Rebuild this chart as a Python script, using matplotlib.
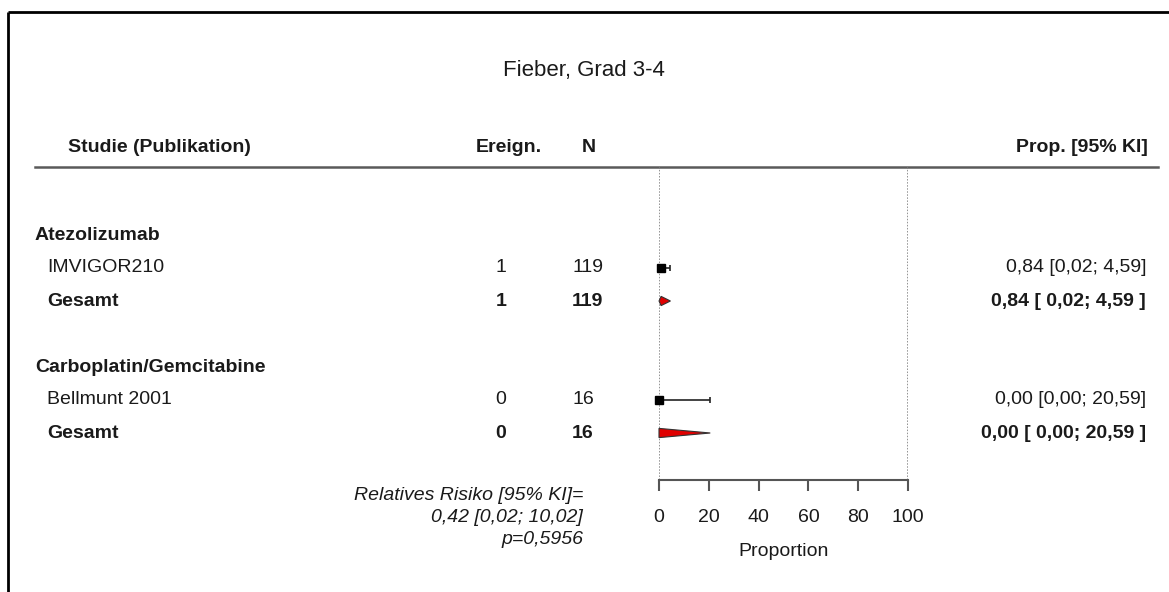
import matplotlib
matplotlib.use("Agg")
import matplotlib.pyplot as plt
from matplotlib.patches import Polygon

plt.rcParams['font.family'] = ['Liberation Sans', 'DejaVu Sans']

# ---- data ----
title = "Fieber, Grad 3-4"
groups = ["Atezolizumab", "Carboplatin/Gemcitabine"]
studies = ["IMVIGOR210", "Bellmunt 2001"]
events = [1, 0]
totals = [119, 16]
prop = [0.84, 0.00]
lower = [0.02, 0.00]
upper = [4.59, 20.59]
pooled_events = [1, 0]
pooled_totals = [119, 16]
pooled_prop = [0.84, 0.00]
pooled_lower = [0.02, 0.00]
pooled_upper = [4.59, 20.59]
x_ticks = [0, 20, 40, 60, 80, 100]
rr, rr_lo, rr_hi, p_value = 0.42, 0.02, 10.02, 0.5956


def fmt(v):
    return f"{v:.2f}".replace(".", ",")


W, H = 1169, 592
fig = plt.figure(figsize=(W / 100, H / 100), dpi=100)
bg = fig.add_axes([0, 0, 1, 1])
bg.set_xlim(0, W)
bg.set_ylim(H, 0)
bg.axis("off")

TXT = "#1a1a1a"
FS = 14

# frame (top and left)
bg.plot([8, W], [12, 12], color="black", lw=2, solid_capstyle="butt")
bg.plot([8, 8], [12, H], color="black", lw=2, solid_capstyle="butt")

# title
bg.text(584, 76, title, ha="center", va="baseline", fontsize=16, color=TXT)

# header
hy = 147
bg.text(68, hy, "Studie (Publikation)", ha="left", va="center", fontsize=FS,
        fontweight="bold", color=TXT)
bg.text(509, hy, "Ereign.", ha="center", va="center", fontsize=FS,
        fontweight="bold", color=TXT)
bg.text(589, hy, "N", ha="center", va="center", fontsize=FS,
        fontweight="bold", color=TXT)
bg.text(1148, hy, "Prop. [95% KI]", ha="right", va="center", fontsize=FS,
        fontweight="bold", color=TXT)
bg.plot([35, 1158], [167, 167], color="#5a5a5a", lw=1.8)

# row layout
y0, step = 235, 33
top_px, bot_px = 167, 480


def rowy(k):
    return y0 + step * k


x_lo_px, x_hi_px = 659, 908
fa = fig.add_axes([x_lo_px / W, (H - bot_px) / H, (x_hi_px - x_lo_px) / W,
                   (bot_px - top_px) / H])
fa.set_xlim(x_ticks[0], x_ticks[-1])
fa.set_ylim((bot_px - y0) / step, (top_px - y0) / step)
fa.patch.set_alpha(0)
for s in ["top", "left", "right"]:
    fa.spines[s].set_visible(False)
fa.spines["bottom"].set_color("#555555")
fa.spines["bottom"].set_linewidth(1.5)
fa.set_yticks([])
fa.set_xticks(x_ticks)
fa.set_xticklabels([str(t) for t in x_ticks])
fa.tick_params(axis="x", direction="out", length=8, width=1.5, color="#555555",
               labelsize=FS, labelcolor=TXT, pad=13)
for xv in (x_ticks[0], x_ticks[-1]):
    fa.axvline(xv, color="#777777", lw=1.1, ls=(0, (1, 1)))

for i, g in enumerate(groups):
    kg = i * 4
    ks = kg + 1
    kp = kg + 2
    bg.text(35, rowy(kg), g, ha="left", va="center", fontsize=FS,
            fontweight="bold", color=TXT)
    bg.text(47, rowy(ks), studies[i], ha="left", va="center", fontsize=FS,
            color=TXT)
    bg.text(47, rowy(kp), "Gesamt", ha="left", va="center", fontsize=FS,
            fontweight="bold", color=TXT)
    bg.text(501, rowy(ks), str(events[i]), ha="center", va="center",
            fontsize=FS, color=TXT)
    bg.text(501, rowy(kp), str(pooled_events[i]), ha="center", va="center",
            fontsize=FS, fontweight="bold", color=TXT)
    bg.text(572, rowy(ks), str(totals[i]), ha="left", va="center",
            fontsize=FS, color=TXT)
    bg.text(572, rowy(kp), str(pooled_totals[i]), ha="left", va="center",
            fontsize=FS, fontweight="bold", color=TXT)
    bg.text(1146, rowy(ks),
            f"{fmt(prop[i])} [{fmt(lower[i])}; {fmt(upper[i])}]",
            ha="right", va="center", fontsize=FS, color=TXT)
    bg.text(1146, rowy(kp),
            f"{fmt(pooled_prop[i])} [ {fmt(pooled_lower[i])}; {fmt(pooled_upper[i])} ]",
            ha="right", va="center", fontsize=FS, fontweight="bold", color=TXT)

    # study CI + square
    fa.errorbar([prop[i]], [ks],
                xerr=[[prop[i] - lower[i]], [upper[i] - prop[i]]],
                fmt="none", ecolor="#222222", elinewidth=1.2, capsize=2.5,
                capthick=1.2, clip_on=False, zorder=3)
    fa.plot([prop[i]], [ks], marker="s", markersize=6, color="black",
            linestyle="none", clip_on=False, zorder=4)

    # pooled diamond
    h = 0.14
    poly = Polygon([(pooled_lower[i], kp), (pooled_prop[i], kp - h),
                    (pooled_upper[i], kp), (pooled_prop[i], kp + h)],
                   closed=True, facecolor="#e00000", edgecolor="#333333",
                   lw=0.8, clip_on=False, zorder=4)
    fa.add_patch(poly)

# axis label
bg.text((x_lo_px + x_hi_px) / 2, 552, "Proportion", ha="center", va="center",
        fontsize=FS, color=TXT)

# relative risk text
bg.text(583, 495, "Relatives Risiko [95% KI]=", ha="right", va="center",
        fontsize=FS, style="italic", color=TXT)
bg.text(583, 518, f"{fmt(rr)} [{fmt(rr_lo)}; {fmt(rr_hi)}]", ha="right",
        va="center", fontsize=FS, style="italic", color=TXT)
bg.text(583, 540, f"p={p_value:.4f}".replace(".", ","), ha="right",
        va="center", fontsize=FS, style="italic", color=TXT)

fig.savefig("out.png", dpi=100)
